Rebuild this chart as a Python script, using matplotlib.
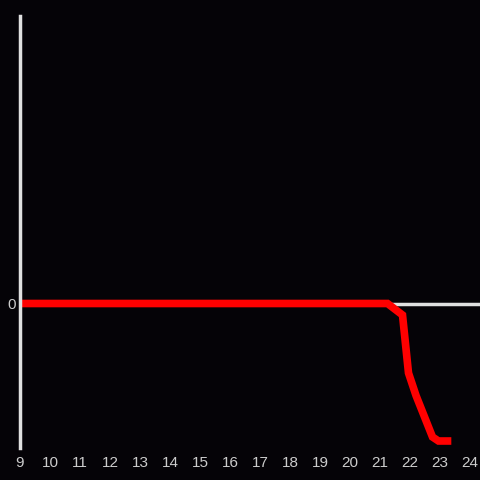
import numpy as np
import matplotlib
matplotlib.use("Agg")
import matplotlib.pyplot as plt

plt.rcParams['font.family'] = ['Liberation Sans', 'DejaVu Sans']

hours = [9, 21.25, 21.75, 21.95, 22.2, 22.75, 22.95, 23.25]
values = [0, 0, -1.15, -6.95, -9.2, -13.35, -13.75, -13.75]
xticks = list(range(9, 25))
yticks = [0]

bg = '#050307'
fig = plt.figure(figsize=(4.8, 4.8), dpi=100, facecolor=bg)
ax = fig.add_axes([20 / 480, 32 / 480, 460 / 480, 432 / 480])
ax.set_facecolor(bg)

ax.axhline(0, color='#e0e0e0', lw=2.5, zorder=1)
ax.plot(hours, values, color='#ff0000', lw=5.5, solid_joinstyle='miter', zorder=2)

ax.set_xlim(9, 9 + 460 / 30)
ax.set_ylim(-14.45, 28.75)
ax.set_xticks(xticks)
ax.set_xticklabels([str(t) for t in xticks])
ax.set_yticks(yticks)
ax.set_yticklabels(['0'])
ax.tick_params(length=0, colors='#cccccc', labelsize=11, pad=6)
ax.tick_params(axis='y', pad=3)

for s in ['top', 'right', 'bottom']:
    ax.spines[s].set_visible(False)
ax.spines['left'].set_color('#e0e0e0')
ax.spines['left'].set_linewidth(2.5)

fig.savefig('out.png', dpi=100, facecolor=bg)
